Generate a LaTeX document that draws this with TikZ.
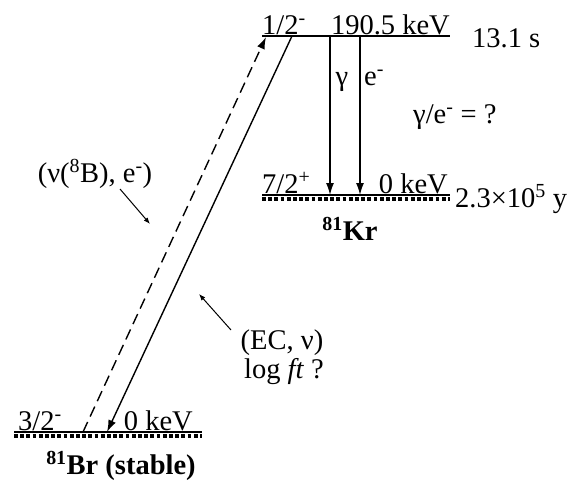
\documentclass[tikz,border=0pt]{standalone}
\usepackage{fontspec}
\setmainfont{Liberation Serif}
\usetikzlibrary{arrows.meta}
\tikzset{
  lvl/.style={line width=1.4pt},
  gnd/.style={line width=3.2pt, dash pattern=on 3.8pt off 2.4pt},
  trans/.style={line width=1.4pt, -{Latex[length=12pt,width=8pt]}},
  ptr/.style={line width=1pt, -{Latex[length=6.5pt,width=5pt]}},
  lab/.style={inner sep=0pt, font=\fontsize{28.5}{32}\selectfont},
}
\begin{document}
\begin{tikzpicture}[x=1pt,y=-1pt]
\useasboundingbox (0,0) rectangle (574,483);
% levels
\coordinate (tl) at (262,36); \coordinate (tr) at (450,36);
\coordinate (kl) at (262,195); \coordinate (kr) at (450,195);
\coordinate (kdl) at (262,199); \coordinate (kdr) at (450,199);
\coordinate (bl) at (14,432); \coordinate (br) at (202,432);
\coordinate (bdl) at (14,436); \coordinate (bdr) at (202,436);
\draw[lvl] (tl) -- (tr);
\draw[lvl] (kl) -- (kr);
\draw[gnd] (kdl) -- (kdr);
\draw[lvl] (bl) -- (br);
\draw[gnd] (bdl) -- (bdr);
% transitions
\coordinate (d0) at (83,432); \coordinate (d1) at (266,37);
\coordinate (s0) at (292,36); \coordinate (s1) at (107,432);
\coordinate (g0) at (330,36); \coordinate (g1) at (330,195);
\coordinate (e0) at (360,36); \coordinate (e1) at (360,195);
\draw[trans, dash pattern=on 11pt off 6pt] (d0) -- (d1);
\draw[trans] (s0) -- (s1);
\draw[trans] (g0) -- (g1);
\draw[trans] (e0) -- (e1);
% pointers
\coordinate (p0) at (120,189); \coordinate (p1) at (150,224);
\coordinate (q0) at (231,330); \coordinate (q1) at (199,294);
\draw[ptr] (p0) -- (p1);
\draw[ptr] (q0) -- (q1);
% labels
\node[lab, anchor=base west] (t1) at (262,34) {1/2\textsuperscript{-}};
\node[lab, anchor=base east] (t2) at (450,34) {190.5 keV};
\node[lab, anchor=base west] (t3) at (472,47) {13.1 s};
\node[lab, anchor=base] (gam) at (342,85) {γ};
\node[lab, anchor=base west] (el) at (364,85) {e\textsuperscript{-}};
\node[lab, anchor=base west] (ratio) at (413,123) {γ/e\textsuperscript{-} = ?};
\node[lab, anchor=base west] (k1) at (262,193) {7/2\textsuperscript{+}};
\node[lab, anchor=base east] (k2) at (448,193) {0 keV};
\node[lab, anchor=base west] (k3) at (455,207) {2.3×10\textsuperscript{5} y};
\node[lab, anchor=base] (kr81) at (350,240) {\textbf{\textsuperscript{81}Kr}};
\node[lab, anchor=base] (nu) at (95,182) {(ν(\textsuperscript{8}B), e\textsuperscript{-})};
\node[lab, anchor=base] (ec) at (282,349) {(EC, ν)};
\node[lab, anchor=base] (ft) at (284,378) {log \textit{ft} ?};
\node[lab, anchor=base west] (b1) at (18,430) {3/2\textsuperscript{-}};
\node[lab, anchor=base east] (b2) at (193,430) {0 keV};
\node[lab, anchor=base] (br81) at (121,474) {\textbf{\textsuperscript{81}Br (stable)}};
\end{tikzpicture}
\end{document}
